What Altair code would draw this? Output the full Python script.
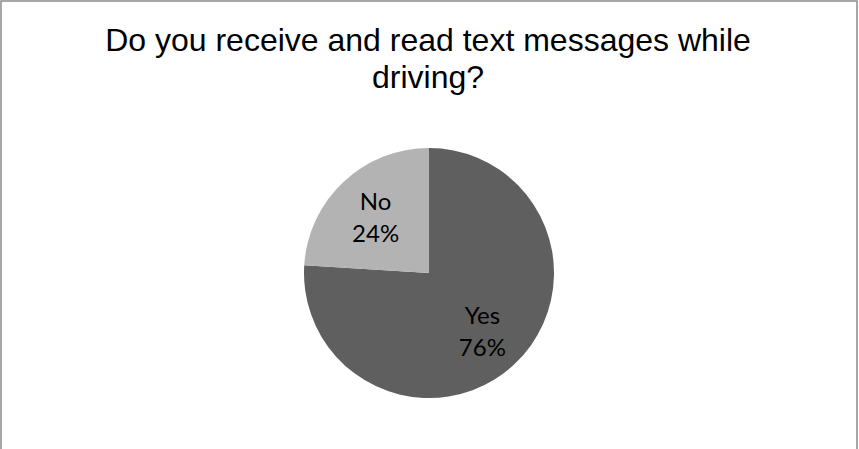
import altair as alt
import pandas as pd

answers = ["Yes", "No"]
shares = [76, 24]
labels = ["Yes\n76%", "No\n24%"]
colors = ["#5f5f5f", "#b3b3b3"]
title_lines = ["Do you receive and read text messages while", "driving?"]

df = pd.DataFrame({"answer": answers, "value": shares, "label": labels, "order": list(range(len(answers)))})

base = alt.Chart(df).encode(
    theta=alt.Theta("value:Q", stack=True),
    order=alt.Order("order:Q"),
)

arc = base.mark_arc(outerRadius=125, stroke=None).encode(
    color=alt.Color("answer:N", scale=alt.Scale(domain=answers, range=colors), legend=None)
)

text = base.mark_text(
    radius=78, dy=-13, fontSize=24, font="Lato", lineBreak="\n", lineHeight=32,
    color="black", align="center", baseline="middle"
).encode(text="label:N")

title = alt.Chart(pd.DataFrame({"t": ["\n".join(title_lines)]})).mark_text(
    font="Liberation Sans", fontSize=32, lineBreak="\n", lineHeight=37,
    align="center", baseline="alphabetic", color="black"
).encode(text="t:N", x=alt.value(427), y=alt.value(50))

chart = alt.layer(arc, text, title).properties(
    width=856, height=544,
    padding={"left": 1, "top": 1, "right": 2, "bottom": 0},
    autosize=alt.AutoSizeParams(type="none"),
).configure_view(stroke="#8a8a8a", strokeWidth=1.5)

chart.save("out.html", embed_options={"renderer": "svg", "actions": False})
